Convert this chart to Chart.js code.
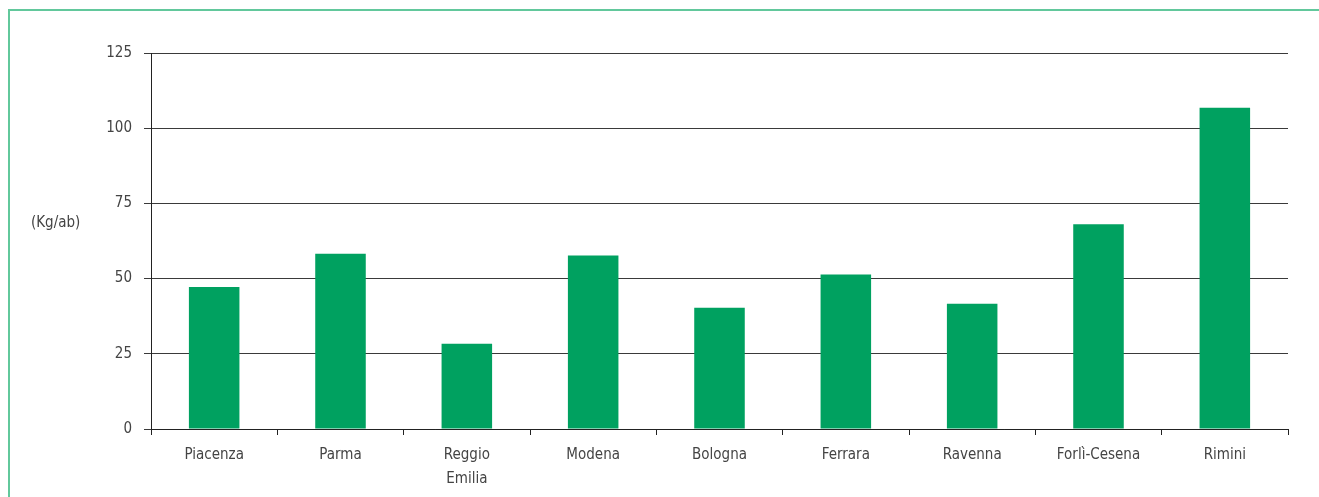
<!DOCTYPE html>
<html>
<head>
<meta charset="utf-8">
<script src="https://cdn.jsdelivr.net/npm/chart.js@4.4.1/dist/chart.umd.min.js"></script>
<style>
  html, body { margin: 0; padding: 0; background: #fff; }
  body { width: 1319px; height: 497px; position: relative; overflow: hidden; }
  #frame { position: absolute; left: 8px; top: 9px; width: 1330px; height: 520px;
           border-left: 2px solid #62c89c; border-top: 2px solid #62c89c; box-sizing: border-box; }
  #wrap { position: absolute; left: 0; top: 0; width: 1319px; height: 497px; }
  #ytitle { position: absolute; left: 31px; top: 212px; font-family: "Liberation Sans Narrow", "DejaVu Sans Condensed", sans-serif;
            font-size: 15px; color: #444; line-height: 20px; }
</style>
</head>
<body>
<div id="frame"></div>
<div id="wrap"><canvas id="c" width="1319" height="497"></canvas></div>
<div id="ytitle">(Kg/ab)</div>
<script>
const categories = ["Piacenza", "Parma", ["Reggio", "Emilia"], "Modena", "Bologna", "Ferrara", "Ravenna", "Forlì-Cesena", "Rimini"];
const values = [47.2, 58.3, 28.3, 57.7, 40.3, 51.4, 41.6, 68.1, 106.8];
const yTicks = [0, 25, 50, 75, 100, 125];

const FONT = "'Liberation Sans Narrow', 'DejaVu Sans Condensed', sans-serif";

new Chart(document.getElementById('c'), {
  type: 'bar',
  data: {
    labels: categories,
    datasets: [{
      data: values,
      backgroundColor: '#00a160',
      borderWidth: 0,
      barPercentage: 0.4,
      categoryPercentage: 1.0
    }]
  },
  options: {
    responsive: false,
    animation: false,
    devicePixelRatio: 1,
    layout: { padding: { left: 0, top: 53, right: 31, bottom: 0 } },
    plugins: { legend: { display: false }, tooltip: { enabled: false }, title: { display: false } },
    scales: {
      x: {
        offset: true,
        grid: { display: true, drawOnChartArea: false, drawTicks: true, tickLength: 6, color: '#222', offset: true },
        border: { display: true, color: '#222', width: 1 },
        ticks: { color: '#444', font: { family: FONT, size: 15, lineHeight: 1.6 }, padding: 8, maxRotation: 0, autoSkip: false },
        afterFit: (s) => { s.height = 68; }
      },
      y: {
        min: 0, max: 125,
        afterBuildTicks: (s) => { s.ticks = yTicks.map(v => ({ value: v })); },
        grid: { color: '#3a3a3a', lineWidth: 1, drawTicks: true, tickLength: 7 },
        border: { display: true, color: '#222', width: 1 },
        ticks: { color: '#444', font: { family: FONT, size: 15 }, padding: 12 },
        afterFit: (s) => { s.width = 151; }
      }
    }
  }
});
</script>
</body>
</html>
